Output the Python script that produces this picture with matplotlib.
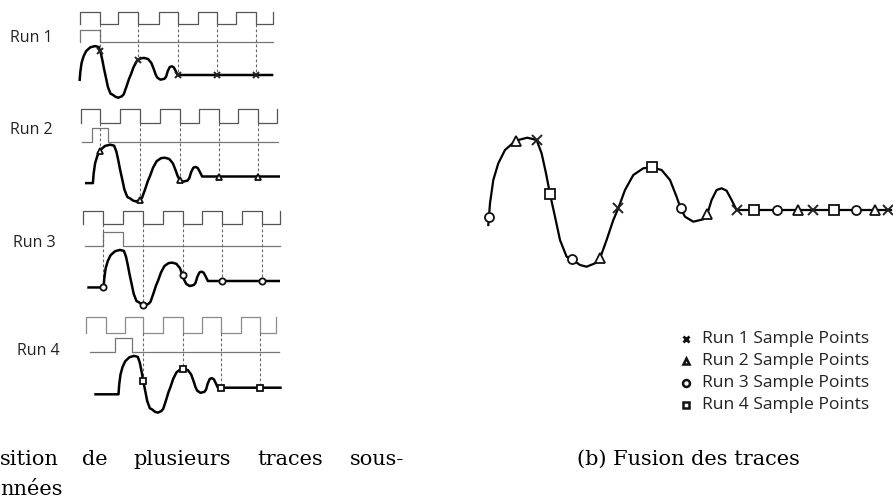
import numpy as np
import matplotlib
matplotlib.use("Agg")
import matplotlib.pyplot as plt

# reference waveform (t in px along time, v in px above the final level)
wave_t = [0, 1.7, 5, 10, 16.7, 27.3, 39, 48.3, 53.3, 57.7, 61.7, 66.7, 71.7, 78.3, 83.3,
          91.7, 98.3, 106.7, 111.7, 118.3, 125, 130, 136.7, 145, 155, 163.3, 173.3, 181.7,
          188.3, 192.3, 196.7, 205, 215, 219, 223.3, 228.3, 233.3, 238.3, 243.3, 248.3]
wave_v = [-15, 6.7, 30, 46.7, 60, 69.3, 72.3, 70, 56.7, 36.7, 16, -6.7, -30, -46.7, -49,
          -55, -56.7, -53.3, -48.3, -30, -10, 1.7, 20, 35, 41.7, 42.7, 40, 30,
          13.3, 1.7, -6.7, -11.7, -9.3, -4, 10, 20, 21.7, 19.3, 10, 0]

run_names = ["Run 1", "Run 2", "Run 3", "Run 4"]
run_markers = ["x", "^", "o", "s"]

# clock edges (first is a rising edge, then alternating)
clock_edges = [
    [80, 100, 118.3, 138.3, 159.3, 178.3, 197.7, 217.3, 236, 256, 273.3],
    [81, 100, 120, 140, 160, 180, 199.3, 219, 238.3, 258.3, 277.3],
    [82.7, 102.7, 122.7, 142.7, 162.7, 182.7, 201.7, 221.7, 241.7, 261.7, 280],
    [86, 106, 125, 143.3, 163.3, 182.7, 201.7, 221, 240.7, 260, 276],
]
clock_hi = [11.7, 109.3, 210.7, 316.7]
clock_lo = [24, 122.7, 224, 332.7]

# trigger pulse: start, rise, fall, end
pulse_x = [
    [80, 80, 99.7, 273.3],
    [81.7, 91.7, 108.3, 278],
    [85, 103.3, 122.7, 280],
    [90, 115, 132.3, 279.3],
]
pulse_hi = [30, 128.3, 232.3, 338.3]
pulse_lo = [42.3, 141.7, 245.7, 351.7]

# sampled trace of each run
trace_start = [79.6, 85, 87.3, 94.3]
trace_x0 = [79.6, 92.9, 103.6, 118.5]
trace_sx = [0.395, 0.44, 0.42, 0.40]
trace_sy = [0.40, 0.44, 0.43, 0.44]
trace_base = [75, 176.5, 281, 387.7]
trace_end = [273.3, 280, 280, 281.7]

sample_x = [
    [100, 138.3, 178.3, 217.3, 256],
    [100, 140, 180, 219, 258.3],
    [102.7, 142.7, 182.7, 221.7, 262],
    [143.3, 182.7, 221, 260],
]

label_xy = [(10, 38), (10, 130), (13, 243), (17, 351)]

# fused trace
fused_x0 = 488.3
fused_base = 210
fused_end = 891
fused_t = [0.6, 27.3, 48.3, 61.7, 83.3, 111.7, 130, 163.3, 192.3, 219, 248.3,
           265.7, 288.3, 309.3, 325, 346, 367.7, 386.7, 400]
fused_run = [3, 2, 1, 4] * 4 + [3, 2, 1]

legend_y = [339, 361, 383, 405]

fig = plt.figure(figsize=(8.93, 5.01), dpi=100)
ax = fig.add_axes([0, 0, 1, 1])
ax.set_xlim(0, 893)
ax.set_ylim(501, 0)
ax.axis("off")

sans = ["Open Sans", "DejaVu Sans"]
serif = ["DejaVu Serif"]

wt = np.array(wave_t)
wv = np.array(wave_v)


def mk(ax, x, y, m, ms):
    if m == "x":
        ax.plot(x, y, "x", color="#222", ms=ms, mew=1.4, zorder=5)
    else:
        ax.plot(x, y, m, mfc="white", mec="#111", ms=ms, mew=1.3, zorder=5)


for i in range(4):
    # clock
    xs, ys = [], []
    for k, e in enumerate(clock_edges[i]):
        if k % 2 == 0:
            xs += [e, e]
            ys += [clock_lo[i], clock_hi[i]]
        else:
            xs += [e, e]
            ys += [clock_hi[i], clock_lo[i]]
    ccol = "#8a8a8a" if i == 3 else "#555555"
    ax.plot(xs, ys, color=ccol, lw=0.9)

    # pulse
    p = pulse_x[i]
    ax.plot([p[0], p[1], p[1], p[2], p[2], p[3]],
            [pulse_lo[i], pulse_lo[i], pulse_hi[i], pulse_hi[i], pulse_lo[i], pulse_lo[i]],
            color="#777777", lw=0.9)

    # trace
    tx = [trace_start[i]] + list(trace_x0[i] + wt * trace_sx[i]) + [trace_end[i]]
    tv = [wave_v[0]] + wave_v + [0]
    ty = trace_base[i] - np.array(tv) * trace_sy[i]
    ax.plot(tx, ty, color="black", lw=1.8, solid_capstyle="butt", zorder=3)

    # samples
    for s in sample_x[i]:
        v = np.interp((s - trace_x0[i]) / trace_sx[i], wt, wv)
        y = trace_base[i] - v * trace_sy[i]
        ax.plot([s, s], [clock_lo[i], y], color="#666666", lw=0.8,
                ls=(0, (2.5, 2)), zorder=2)
        mk(ax, s, y, run_markers[i], 4.5)

    ax.text(label_xy[i][0], label_xy[i][1], run_names[i], fontsize=11.5,
            family=sans, va="center", ha="left", color="#222")

# fused trace
fx = [fused_x0 + t for t in wave_t] + [fused_end]
fy = [fused_base - v for v in wave_v] + [fused_base]
ax.plot(fx, fy, color="black", lw=1.6, zorder=3)
for t, r in zip(fused_t, fused_run):
    v = np.interp(t, wt, wv)
    mk(ax, fused_x0 + t, fused_base - v, run_markers[r - 1], 6.5)

# legend
for i in range(4):
    m = run_markers[i]
    if m == "x":
        ax.plot(686, legend_y[i], "x", color="#111", ms=5, mew=2)
    else:
        ax.plot(686, legend_y[i], m, mfc="white", mec="#111", ms=5, mew=1.8)
    ax.text(702, legend_y[i], run_names[i] + " Sample Points", fontsize=12.6,
            family=sans, va="center", ha="left", color="#222")

# captions
words = ["sition", "de", "plusieurs", "traces", "sous-"]
word_x = [0, 82, 133, 257, 350]
for w, x in zip(words, word_x):
    ax.text(x, 465, w, fontsize=15, family=serif, va="baseline", ha="left")
ax.text(0, 495, "nnées", fontsize=15, family=serif, va="baseline", ha="left")
ax.text(577, 465, "(b) Fusion des traces", fontsize=15, family=serif,
        va="baseline", ha="left")

fig.savefig("out.png", dpi=100)
